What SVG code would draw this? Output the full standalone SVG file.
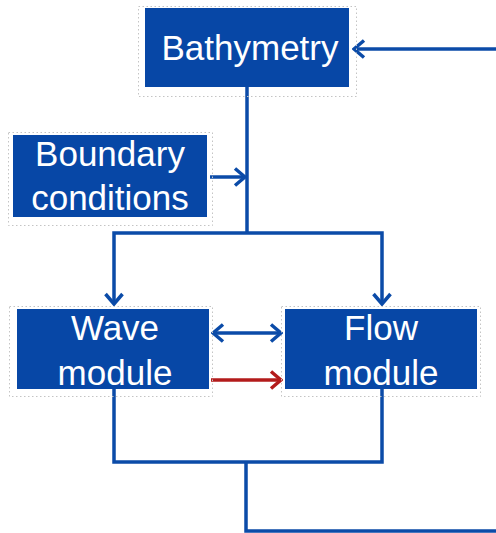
<svg xmlns="http://www.w3.org/2000/svg" width="496" height="533" viewBox="0 0 496 533">
<style>
.box{fill:#0747A6}
.frame{fill:none;stroke:#c4c4c4;stroke-width:1;stroke-dasharray:1.5 2.5}
.t{fill:#ffffff;font-family:"Liberation Sans",Arial,sans-serif;font-size:35px;text-anchor:middle}
.c{fill:none;stroke:#0B4BA8;stroke-width:3.5}
.r{fill:none;stroke:#B31B1B;stroke-width:3.5}
</style>
<defs>
<marker id="ab" viewBox="0 0 14 20" refX="12" refY="10" markerWidth="14" markerHeight="20" markerUnits="userSpaceOnUse" orient="auto-start-reverse">
<path d="M2,1.5 L12,10 L2,18.5" fill="none" stroke="#0B4BA8" stroke-width="3.5"/>
</marker>
<marker id="ar" viewBox="0 0 14 20" refX="12" refY="10" markerWidth="14" markerHeight="20" markerUnits="userSpaceOnUse" orient="auto">
<path d="M2,1.5 L12,10 L2,18.5" fill="none" stroke="#B31B1B" stroke-width="3.5"/>
</marker>
</defs>
<g id="connectors">
<path class="c" d="M496,49 H354" marker-end="url(#ab)"/>
<path class="c" d="M247,87 V233"/>
<path class="c" d="M247,233 H114 V304" marker-end="url(#ab)"/>
<path class="c" d="M247,233 H382 V304" marker-end="url(#ab)"/>
<path class="c" d="M210,177 H245" marker-end="url(#ab)"/>
<path class="c" d="M213,333 H281" marker-start="url(#ab)" marker-end="url(#ab)"/>
<path class="r" d="M211,380 H281" marker-end="url(#ar)"/>
<path class="c" d="M114,389 V462 H382 V389"/>
<path class="c" d="M246,462 V531 H496"/>
</g>
<g id="bathymetry">
<rect class="frame" x="138.5" y="6.5" width="218" height="90"/>
<rect class="box" x="145" y="8" width="204" height="79"/>
<text class="t" x="250" y="60" font-size="34">Bathymetry</text>
</g>
<g id="boundary">
<rect class="frame" x="8.5" y="132.5" width="204" height="93"/>
<rect class="box" x="13" y="135" width="194" height="82"/>
<text class="t" x="110" y="166">Boundary</text>
<text class="t" x="110" y="210">conditions</text>
</g>
<g id="wave">
<rect class="frame" x="9.5" y="306.5" width="203" height="90"/>
<rect class="box" x="17" y="309" width="192" height="80"/>
<text class="t" x="115" y="340">Wave</text>
<text class="t" x="115" y="385">module</text>
</g>
<g id="flow">
<rect class="frame" x="281.5" y="306.5" width="199" height="90"/>
<rect class="box" x="285" y="309" width="192" height="80"/>
<text class="t" x="381" y="340">Flow</text>
<text class="t" x="381" y="385">module</text>
</g>
</svg>
